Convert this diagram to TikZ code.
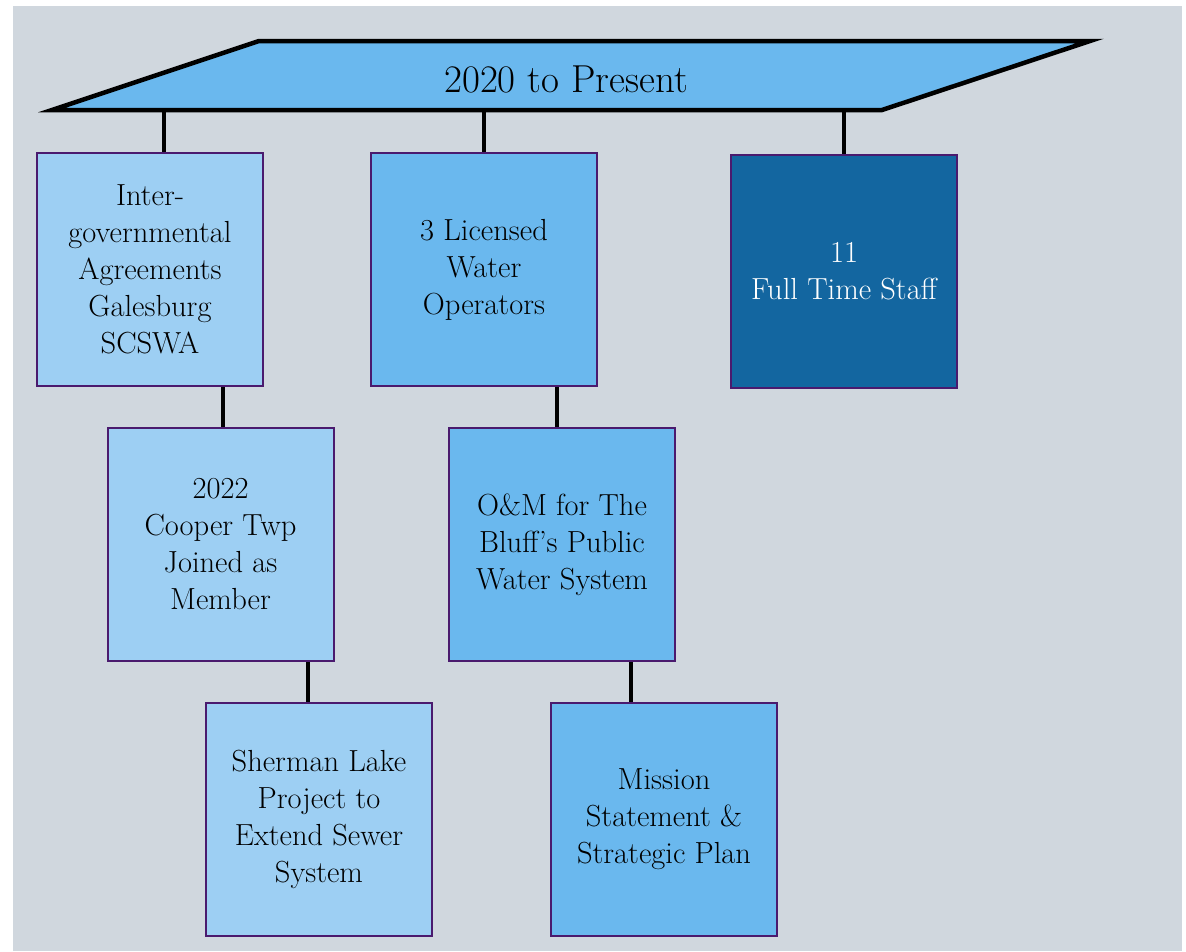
\documentclass[tikz,border=0pt]{standalone}
\usepackage{fontspec}
\definecolor{bgcol}{HTML}{D0D7DE}
\definecolor{lightbox}{HTML}{9DCFF3}
\definecolor{midbox}{HTML}{6AB8EE}
\definecolor{darkbox}{HTML}{1366A0}
\definecolor{edgecol}{HTML}{4A1A6E}
\tikzset{
  box/.style={draw=edgecol, line width=2pt, minimum width=226pt, minimum height=233pt,
    align=center, inner sep=0pt, font=\fontsize{30.5}{37}\selectfont, text=black},
  lightfill/.style={fill=lightbox},
  midfill/.style={fill=midbox},
  darkfill/.style={fill=darkbox, text=white},
  conn/.style={draw=black, line width=4pt},
  banner/.style={draw=black, line width=4.5pt, fill=midbox, line join=miter}
}
\begin{document}
\begin{tikzpicture}[x=1pt,y=-1pt]
\useasboundingbox (0,0) rectangle (1186,951);
\fill[white] (0,0) rectangle (1186,951);
\fill[bgcol] (13,6) rectangle (1182,951);
% banner
\coordinate (p1) at (52,110);
\coordinate (p2) at (259,41);
\coordinate (p3) at (1090,41);
\coordinate (p4) at (882,110);
\path[banner] (p1) -- (p2) -- (p3) -- (p4) -- cycle;
\node[font=\fontsize{39}{44}\selectfont, text=black] (title) at (566,79) {2020 to Present};
% boxes
\node[box, lightfill] (B1) at (150,269.5) {Inter-\\governmental\\Agreements\\Galesburg\\SCSWA};
\node[box, midfill] (B2) at (484,269.5) {3 Licensed\\Water\\Operators};
\node[box, darkfill] (B3) at (844,271.5) {11\\Full Time Staff};
\node[box, lightfill] (B4) at (220.5,544.5) {2022\\Cooper Twp\\Joined as\\Member};
\node[box, midfill] (B5) at (562,544.5) {O\&M for The\\Bluff's Public\\Water System};
\node[box, lightfill] (B6) at (319,819.5) {Sherman Lake\\Project to\\Extend Sewer\\System};
\node[box, midfill] (B7) at (664,819.5) {Mission\\Statement \&\\Strategic Plan};
% connector x positions
\coordinate (x1) at (164,0);
\coordinate (x2) at (484,0);
\coordinate (x3) at (844,0);
\coordinate (x14) at (223,0);
\coordinate (x25) at (557,0);
\coordinate (x46) at (308,0);
\coordinate (x57) at (631,0);
\coordinate (bannerbottom) at (0,112);
% connectors
\draw[conn] (bannerbottom -| x1) -- (B1.north -| x1);
\draw[conn] (bannerbottom -| x2) -- (B2.north -| x2);
\draw[conn] (bannerbottom -| x3) -- (B3.north -| x3);
\draw[conn] (B1.south -| x14) -- (B4.north -| x14);
\draw[conn] (B2.south -| x25) -- (B5.north -| x25);
\draw[conn] (B4.south -| x46) -- (B6.north -| x46);
\draw[conn] (B5.south -| x57) -- (B7.north -| x57);
\end{tikzpicture}
\end{document}
